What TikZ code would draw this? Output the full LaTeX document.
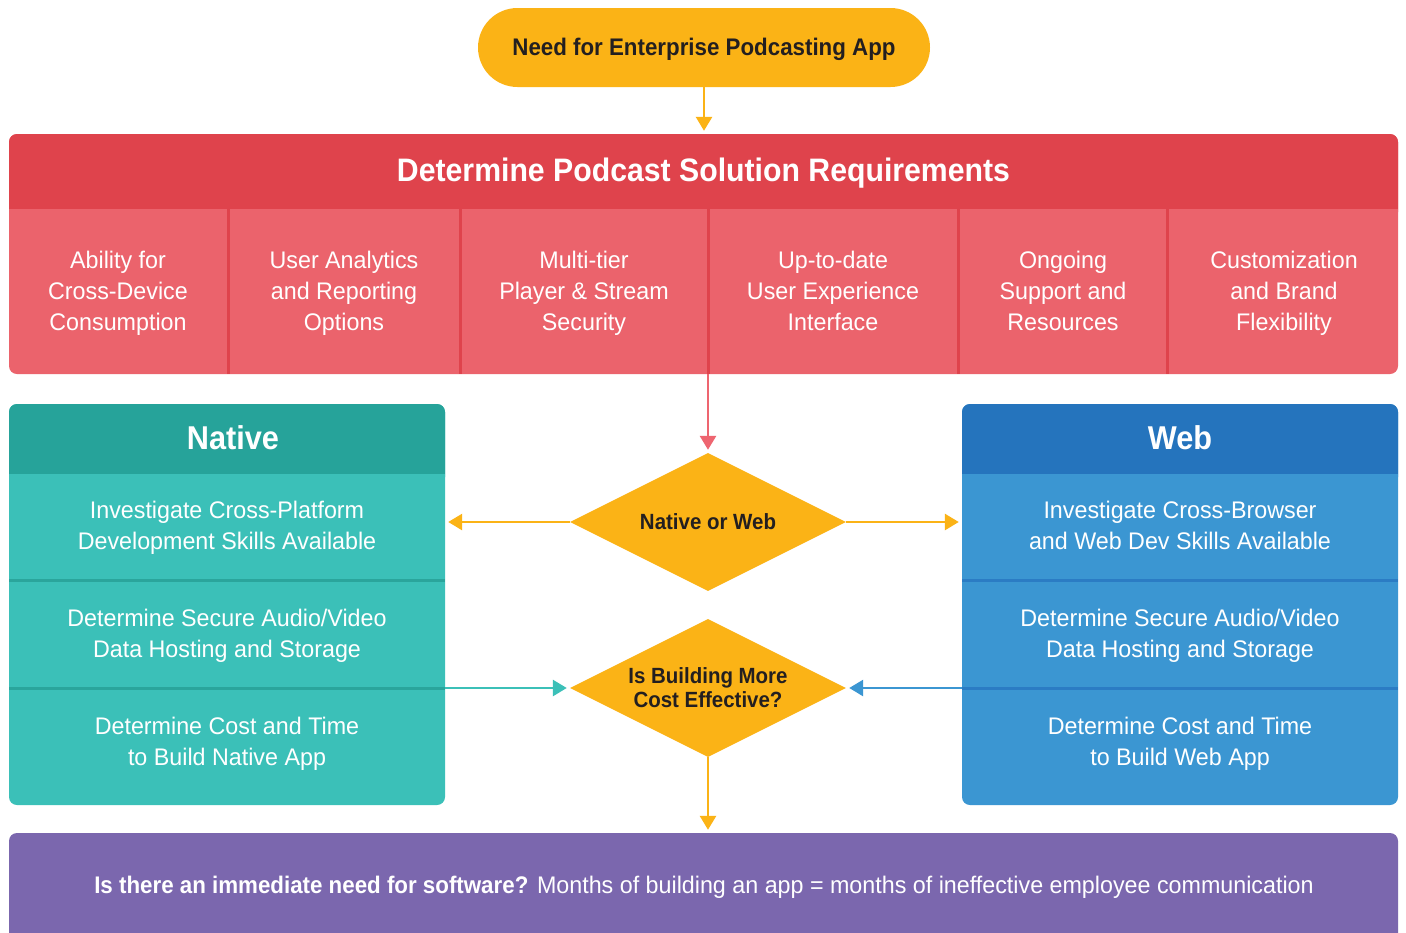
\documentclass[tikz,border=0pt]{standalone}
\usepackage{fontspec}
\setmainfont{Liberation Sans}[FakeStretch=0.97, BoldFeatures={FakeStretch=0.93}]
\usetikzlibrary{arrows.meta,shapes.geometric}
\definecolor{yel}{HTML}{FBB316}
\definecolor{dark}{HTML}{231F20}
\definecolor{redH}{HTML}{DF434C}
\definecolor{redB}{HTML}{EB636C}
\definecolor{pinkA}{HTML}{EE6570}
\definecolor{tealH}{HTML}{26A39A}
\definecolor{tealB}{HTML}{3BC0B8}
\definecolor{tealD}{HTML}{2AA59C}
\definecolor{blueH}{HTML}{2574BD}
\definecolor{blueB}{HTML}{3B96D2}
\definecolor{blueD}{HTML}{2B7CC4}
\definecolor{purp}{HTML}{7B67AE}
\begin{document}
\begin{tikzpicture}[x=1pt,y=-1pt,
  txt/.style={text=white, align=center, font=\fontsize{24}{31}\selectfont, execute at begin node=\strut, execute at end node=\strut},
  headtxt/.style={text=white, font=\bfseries\fontsize{33}{36}\selectfont},
  arr/.style={line width=2.7pt, -{Triangle[width=16pt,length=14pt]}},
  panel/.style={rounded corners=8pt, inner sep=0pt},
  dia/.style={diamond, fill=yel, aspect=2, inner sep=0pt, minimum width=276pt, minimum height=138pt, text=dark, font=\bfseries\fontsize{22}{24}\selectfont, align=center}]
\clip (0,0) rectangle (1406,932);
\fill[white] (0,0) rectangle (1406,932);

% top pill
\node[fill=yel, rounded corners=39.5pt, minimum width=452pt, minimum height=79pt] (need) at (704,47.5) {};
\node[font=\bfseries\fontsize{24}{28}\selectfont, text=dark] (needt) at (704,49.5) {Need for Enterprise Podcasting App};

% requirements box
\node[panel, fill=redB, minimum width=1389pt, minimum height=240pt] (req) at (703.5,254) {};
\fill[redH, rounded corners=8pt] (9,134) rectangle (1398,220);
\fill[redB] (9,209) rectangle (1398,222);
\node[text=white, font=\bfseries\fontsize{32.5}{36}\selectfont] (reqt) at (703.5,173) {Determine Podcast Solution Requirements};
\foreach \x in {228,460,708,958,1167} \draw[redH, line width=3pt] (\x,209) -- (\x,374);
\node[txt] (r1) at (118,295) {Ability for\\Cross-Device\\Consumption};
\node[txt] (r2) at (344,295) {User Analytics\\and Reporting\\Options};
\node[txt] (r3) at (584,295) {Multi-tier\\Player \& Stream\\Security};
\node[txt] (r4) at (833,295) {Up-to-date\\User Experience\\Interface};
\node[txt] (r5) at (1063,295) {Ongoing\\Support and\\Resources};
\node[txt] (r6) at (1284,295) {Customization\\and Brand\\Flexibility};

% Native box
\node[panel, fill=tealB, minimum width=436pt, minimum height=401pt] (nat) at (227,604.5) {};
\fill[tealH, rounded corners=8pt] (9,404) rectangle (445,485);
\fill[tealB] (9,474) rectangle (445,487);
\node[headtxt] (natt) at (233,438) {Native};
\draw[tealD, line width=3pt] (9,580) -- (445,580);
\draw[tealD, line width=3pt] (9,688) -- (445,688);
\coordinate (natdiv) at (445,688);
\node[txt] (n1) at (227,530) {Investigate Cross-Platform\\Development Skills Available};
\node[txt] (n2) at (227,638) {Determine Secure Audio/Video\\Data Hosting and Storage};
\node[txt] (n3) at (227,746) {Determine Cost and Time\\to Build Native App};

% Web box
\node[panel, fill=blueB, minimum width=436pt, minimum height=401pt] (web) at (1180,604.5) {};
\fill[blueH, rounded corners=8pt] (962,404) rectangle (1398,485);
\fill[blueB] (962,474) rectangle (1398,487);
\node[headtxt] (webt) at (1180,438) {Web};
\draw[blueD, line width=3pt] (962,580) -- (1398,580);
\draw[blueD, line width=3pt] (962,688) -- (1398,688);
\coordinate (webdiv) at (962,688);
\node[txt] (w1) at (1180,530) {Investigate Cross-Browser\\and Web Dev Skills Available};
\node[txt] (w2) at (1180,638) {Determine Secure Audio/Video\\Data Hosting and Storage};
\node[txt] (w3) at (1180,746) {Determine Cost and Time\\to Build Web App};

% diamonds
\node[dia] (d1) at (708,522) {Native or Web};
\node[dia] (d2) at (708,688) {Is Building More\\Cost Effective?};

% bottom box
\node[panel, fill=purp, minimum width=1389pt, minimum height=120pt] (bot) at (703.5,893) {};
\node[text=white, font=\fontsize{24}{28}\selectfont] (bott) at (704,887) {\textbf{Is there an immediate need for software?} Months of building an app = months of ineffective employee communication};

% connectors
\draw[arr, yel, shorten >=3pt] (need.south) -- (need.south |- req.north);
\draw[arr, pinkA, shorten >=3pt] (req.south -| d1.north) -- (d1.north);
\draw[arr, yel, shorten >=3pt] (d1.west) -- (nat.east |- d1.west);
\draw[arr, yel, shorten >=3pt] (d1.east) -- (web.west |- d1.east);
\draw[arr, tealB, shorten >=3pt] (natdiv) -- (d2.west);
\draw[arr, blueB, shorten >=3pt] (webdiv) -- (d2.east);
\draw[arr, yel, shorten >=3pt] (d2.south) -- (d2.south |- bot.north);
\end{tikzpicture}
\end{document}
